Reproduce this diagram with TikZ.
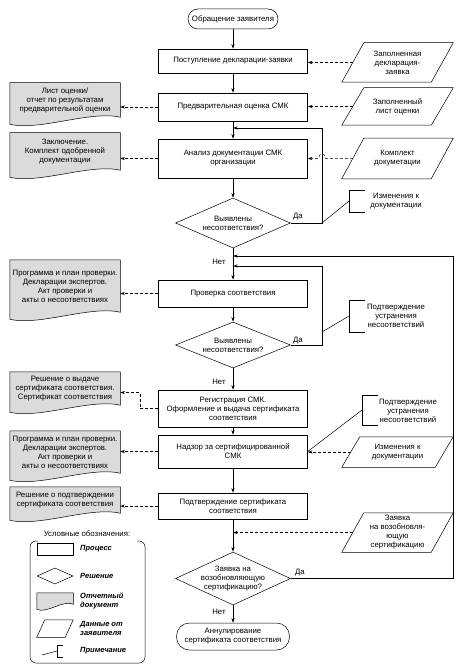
\documentclass[tikz,border=0pt]{standalone}
\usepackage{fontspec}
\setmainfont{Liberation Sans}
\usetikzlibrary{shapes.geometric,arrows.meta,calc}

\tikzset{
 base/.style={font=\fontsize{7.8}{9}\selectfont, align=center, inner sep=1pt, line width=0.5pt},
 proc/.style={base, draw, rectangle, minimum width=149pt},
 term/.style={base, draw, rectangle, rounded corners=10pt},
 decis/.style={base, draw, diamond, minimum width=115pt, aspect=2.2, inner sep=0pt},
 datab/.style={base, rectangle},
 docb/.style={base, rectangle, minimum width=110pt},
 notet/.style={base},
 lbl/.style={font=\fontsize{7.8}{9}\selectfont, inner sep=1pt},
 flow/.style={line width=0.5pt, -{Stealth[length=4.5pt,width=3pt]}},
 dflow/.style={flow, dash pattern=on 3pt off 2pt},
 plain/.style={line width=0.5pt},
 leg/.style={font=\fontsize{7.5}{8.5}\selectfont\bfseries\itshape, align=left, anchor=west, inner sep=0pt},
}

% parallelogram around a mid-section rectangle node
\newcommand{\paraShape}[2]{\draw[plain] ([xshift=-#2]#1.south west) -- ([xshift=-#2]#1.south east) -- ([xshift=#2]#1.north east) -- ([xshift=#2]#1.north west) -- cycle;}
% document shape with wavy bottom
\newcommand{\docShape}[3]{\draw[plain, fill=gray!28] (#1.north west) -- (#1.north east) -- (#1.south east) .. controls +(-#2,#3) and +(#2,-#3) .. ([yshift=-#3]#1.south west) -- cycle;}
% note bracket
\newcommand{\noteBracket}[4]{\draw[plain] (#1+#4,#2) -- (#1,#2) -- (#1,#3) -- (#1+#4,#3);}

\begin{document}
\begin{tikzpicture}[x=1pt,y=-1pt]
\useasboundingbox (0,0) rectangle (463,671);

% ---------- main column ----------
\node[term, minimum width=90pt, minimum height=20pt] (start) at (233,19) {Обращение заявителя};
\node[proc, minimum height=24pt] (p1) at (233,61) {Поступление декларации-заявки};
\node[proc, minimum height=28pt] (p2) at (233,107) {Предварительная оценка СМК};
\node[proc, minimum height=39pt] (p3) at (233,158.5) {Анализ документации СМК\\организации};
\node[decis, minimum height=50pt] (q1) at (233,223) {Выявлены\\несоответствия?};
\node[proc, minimum height=27pt] (p4) at (233,293.5) {Проверка соответствия};
\node[decis, minimum height=46pt] (q2) at (233,345) {Выявлены\\несоответствия?};
\node[proc, minimum height=37pt] (p5) at (233,408.5) {Регистрация СМК.\\Оформление и выдача сертификата\\соответствия};
\node[proc, minimum height=33pt] (p6) at (233,451.5) {Надзор за сертифицированной\\СМК};
\node[proc, minimum height=26pt] (p7) at (233,506) {Подтверждение сертификата\\соответствия};
\node[decis, minimum height=53pt, inner sep=-2pt] (q3) at (233,578.5) {Заявка на\\возобновляющую\\сертификацию?};
\node[term, minimum width=113pt, minimum height=27pt, rounded corners=13pt] (end) at (233,636.5) {Аннулирование\\сертификата соответствия};

% ---------- data from applicant ----------
\node[datab, minimum width=89pt, minimum height=39pt] (d1) at (397.5,62.5) {Заполненная\\декларация-\\заявка};
\paraShape{d1}{11pt}
\node[datab, minimum width=89pt, minimum height=37pt] (d2) at (397.5,106.5) {Заполненный\\лист оценки};
\paraShape{d2}{11pt}
\node[datab, minimum width=89pt, minimum height=40pt] (d3) at (397.5,158.5) {Комплект\\докуметации};
\paraShape{d3}{11pt}
\node[datab, minimum width=93pt, minimum height=30pt] (d4) at (397.5,452) {Изменения к\\документации};
\paraShape{d4}{9pt}
\node[datab, minimum width=89pt, minimum height=39pt] (d5) at (397.5,532.5) {Заявка\\на возобновля-\\ющую\\сертификацию};
\paraShape{d5}{11pt}

% ---------- report documents ----------
\node[docb, minimum height=34pt] (doc1) at (65,100) {};
\docShape{doc1}{30pt}{7pt}
\node[base] at (doc1) {Лист оценки/\\отчет по результатам\\предварительной оценки};
\node[docb, minimum height=37pt] (doc2) at (65,151.5) {};
\docShape{doc2}{30pt}{7pt}
\node[base] at (doc2) {Заключение.\\Комплект одобренной\\документации};
\node[docb, minimum height=52pt] (doc3) at (65,286) {};
\docShape{doc3}{30pt}{7pt}
\node[base] at (doc3) {Программа и план проверки.\\Декларации экспертов.\\Акт проверки и\\акты о несоответствиях};
\node[docb, minimum height=33pt] (doc4) at (65,388.5) {};
\docShape{doc4}{30pt}{7pt}
\node[base] at (doc4) {Решение о выдаче\\сертификата соответствия.\\Сертификат соответствия};
\node[docb, minimum height=42pt] (doc5) at (65,452) {};
\docShape{doc5}{30pt}{7pt}
\node[base] at (doc5) {Программа и план проверки.\\Декларации экспертов.\\Акт проверки и\\акты о несоответствиях};
\node[docb, minimum height=26pt] (doc6) at (65,500) {};
\docShape{doc6}{30pt}{7pt}
\node[base] at (doc6) {Решение о подтверждении\\сертификата соответствия};

% ---------- notes ----------
\node[notet] (n1) at (396,201) {Изменения к\\документации};
\noteBracket{349}{190}{212}{16}
\coordinate (n1b) at (349,201);
\node[notet] (n2) at (396,315.5) {Подтверждение\\устранения\\несоответствий};
\noteBracket{349}{300}{332}{16}
\coordinate (n2b) at (349,316);
\node[notet] (n3) at (408,411) {Подтверждение\\устранения\\несоответствий};
\noteBracket{362}{395}{425}{16}
\coordinate (n3b) at (362,410);

% ---------- main flow ----------
\draw[flow] (start) -- (p1);
\draw[flow] (p1) -- (p2);
\draw[flow] (p2) -- (p3);
\draw[flow] (p3) -- (q1);
\draw[flow] (q1) -- (p4);
\draw[flow] (p4) -- (q2);
\draw[flow] (q2) -- (p5);
\draw[flow] (p5) -- (p6);
\draw[flow] (p6) -- (p7);
\draw[flow] (p7) -- (q3);
\draw[flow] (q3) -- (end);

% ---------- loops ----------
\coordinate (r1) at (322,128);
\coordinate (r2) at (322,266);
\coordinate (r3) at (453,256);
\draw[flow] (q1.east) -- (q1.east -| r1) -- (r1) -- (r1 -| p3.north);
\draw[flow] (q2.east) -- (q2.east -| r2) -- (r2) -- (r2 -| p4.north);
\draw[flow] (q3.east) -- (q3.east -| r3) -- (r3) -- (r3 -| p4.north);

% ---------- notes connectors ----------
\draw[plain] (q1.east -| r1) -- (n1b);
\coordinate (n2s) at (322,332);
\draw[plain] (n2s) -- (n2b);
\draw[plain] (n3b) -- (p6.east);

% ---------- data connectors ----------
\draw[dflow] (d1.west) -- (d1.west -| p1.east);
\draw[dflow] (d2.west) -- (d2.west -| p2.east);
\coordinate (hop) at (322,158.5);
\draw[dflow] (d3.west) -- ([xshift=3.5pt]hop) .. controls +(0,-6) and +(0,-6) .. ([xshift=-3.5pt]hop) -- (d3.west -| p3.east);
\draw[dflow] (d4.west) -- (d4.west -| p6.east);
\draw[dflow] (d5.west) -- (d5.west -| p7.south);

% ---------- document connectors ----------
\draw[dflow] (p2.west) -- (p2.west -| doc1.east);
\draw[dflow] (p3.west) -- (p3.west -| doc2.east);
\draw[dflow] (p4.west) -- (p4.west -| doc3.east);
\draw[dflow] (p5.west) -- (140,408.5) |- ([yshift=-4pt]doc4.east);
\draw[dflow] (p6.west) -- (p6.west -| doc5.east);
\draw[dflow] (p7.west) -- (p7.west -| doc6.east);

% ---------- labels ----------
\node[lbl] (da1) at (298,217) {Да};
\node[lbl] (da2) at (298,341) {Да};
\node[lbl] (da3) at (300,573) {Да};
\node[lbl] (net1) at (219,262) {Нет};
\node[lbl] (net2) at (219,382) {Нет};
\node[lbl] (net3) at (219,612) {Нет};

% ---------- legend ----------
\node[lbl] (legt) at (87,534) {Условные обозначения:};
\draw[plain, rounded corners=6pt] (38,541) -- (30,541) -- (30,663) -- (145,663) -- (145,541) -- (137,541);
\node[draw, plain, minimum width=36pt, minimum height=12pt, inner sep=0pt] (lp) at (55,549) {};
\node[leg] (lpt) at (80,549) {Процесс};
\node[draw, plain, diamond, minimum width=36pt, minimum height=16pt, inner sep=0pt] (ld) at (55,576) {};
\node[leg] (ldt) at (80,576) {Решение};
\node[docb, minimum width=36pt, minimum height=11pt, inner sep=0pt] (ldoc) at (55,598.5) {};
\docShape{ldoc}{10pt}{5pt}
\node[leg] (ldoct) at (80,601) {Отчетный\\документ};
\node[datab, minimum width=28pt, minimum height=17pt, inner sep=0pt] (lpar) at (55,628.5) {};
\paraShape{lpar}{4pt}
\node[leg] (lpart) at (80,628.5) {Данные от\\заявителя};
\noteBracket{57}{645}{657}{6}
\coordinate (lnb) at (57,651);
\coordinate (lns) at (42,655);
\draw[plain] (lns) -- (lnb);
\node[leg] (lnt) at (80,651) {Примечание};
\end{tikzpicture}
\end{document}
